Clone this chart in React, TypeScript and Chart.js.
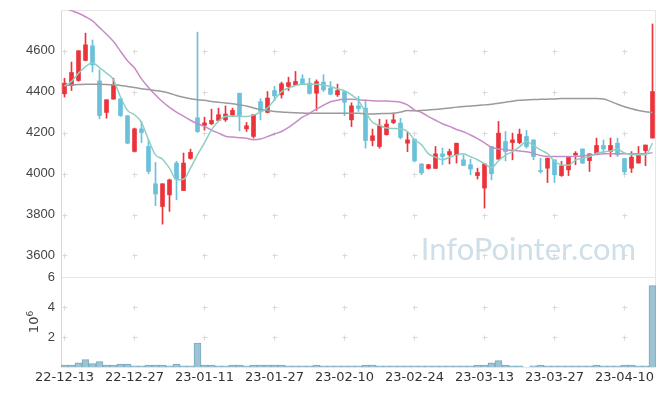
import React, { useEffect, useRef } from 'react';
import { Chart, registerables } from 'chart.js';

Chart.register(...registerables);

const dates = [
  '22-12-13','22-12-14','22-12-15','22-12-16','22-12-19','22-12-20','22-12-21','22-12-22','22-12-23','22-12-26',
  '22-12-27','22-12-28','22-12-29','23-01-02','23-01-03','23-01-04','23-01-05','23-01-06','23-01-09','23-01-10',
  '23-01-11','23-01-12','23-01-13','23-01-16','23-01-17','23-01-18','23-01-19','23-01-20','23-01-25','23-01-26',
  '23-01-27','23-01-30','23-01-31','23-02-01','23-02-02','23-02-03','23-02-06','23-02-07','23-02-08','23-02-09',
  '23-02-10','23-02-13','23-02-14','23-02-15','23-02-16','23-02-17','23-02-20','23-02-21','23-02-22','23-02-23',
  '23-02-24','23-02-27','23-02-28','23-03-02','23-03-03','23-03-06','23-03-07','23-03-08','23-03-09','23-03-10',
  '23-03-13','23-03-14','23-03-15','23-03-16','23-03-17','23-03-20','23-03-21','23-03-22','23-03-23','23-03-24',
  '23-03-27','23-03-28','23-03-29','23-03-30','23-03-31','23-04-03','23-04-04','23-04-05','23-04-06','23-04-07',
  '23-04-10','23-04-11','23-04-12','23-04-13','23-04-14',
];

const opens = [
  4389,4430,4454,4552,4623,4452,4298,4363,4365,4282, 4108,4218,4132,3950,3839,3896,4051,3917,4074,4272,
  4235,4243,4259,4262,4285,4392,4218,4181,4351,4298, 4405,4384,4425,4433,4462,4441,4392,4446,4417,4384,
  4400,4262,4330,4319,4161,4132,4190,4249,4246,4148, 4168,4047,4025,4025,4096,4091,4090,4067,4043,3990,
  3929,4132,4070,4156,4151,4151,4181,4164,4015,4026, 4067,3990,4018,4091,4120,4063,4095,4137,4107,4148,
  4073,4026,4051,4112,4173,
];
const highs = [
  4465,4544,4600,4685,4652,4506,4360,4465,4365,4282, 4222,4255,4165,4054,3950,3973,4060,4100,4119,4690,
  4275,4314,4319,4330,4319,4392,4249,4287,4365,4400, 4425,4446,4470,4498,4482,4465,4457,4482,4449,4436,
  4400,4345,4376,4359,4217,4265,4262,4295,4270,4200, 4168,4047,4045,4132,4124,4119,4148,4091,4070,4026,
  4050,4132,4254,4205,4197,4217,4210,4164,4075,4075, 4067,4059,4083,4107,4120,4096,4173,4164,4173,4173,
  4073,4107,4132,4139,4730,
];
const lows = [
  4373,4405,4450,4550,4495,4267,4270,4363,4278,4145, 4105,4151,3999,3843,3753,3815,3872,3917,4070,4200,
  4212,4238,4259,4254,4278,4208,4205,4173,4262,4296, 4355,4368,4405,4433,4436,4387,4308,4400,4384,4376,
  4282,4229,4303,4124,4135,4124,4187,4243,4169,4107, 4056,3994,4022,4025,4043,4047,4051,4039,3994,3973,
  3831,3969,4070,4062,4067,4145,4124,4067,4002,3956, 3956,3986,3990,4043,4048,4010,4092,4096,4083,4083,
  3998,4005,4051,4038,4173,
];
const closes = [
  4441,4493,4599,4628,4530,4283,4360,4433,4283,4148, 4218,4200,4010,3900,3950,3969,3973,4051,4103,4205,
  4247,4259,4287,4290,4308,4283,4233,4287,4303,4368, 4379,4438,4444,4449,4438,4391,4448,4408,4387,4405,
  4348,4330,4317,4161,4184,4233,4241,4262,4176,4164, 4062,4003,4043,4096,4083,4107,4148,4039,4022,4005,
  4047,3999,4197,4107,4164,4192,4132,4083,4010,4075, 3994,4037,4083,4099,4051,4096,4137,4120,4137,4091,
  4008,4080,4096,4139,4400,
];

const ma5 = [
  4427,4449,4489,4522,4539,4517,4490,4457,4373,4308, 4287,4249,4165,4091,4070,4026,3969,3972,4026,4091,
  4150,4213,4255,4278,4281,4278,4278,4285,4300,4320, 4360,4400,4417,4430,4436,4436,4436,4431,4425,4413,
  4404,4384,4355,4300,4250,4235,4222,4220,4218,4205, 4165,4140,4096,4080,4067,4080,4091,4096,4082,4067,
  4048,4028,4062,4090,4107,4130,4156,4136,4115,4097, 4060,4042,4040,4065,4075,4082,4099,4105,4110,4118,
  4100,4092,4091,4091,4148,
];
const ma20 = [
  4808,4795,4782,4765,4745,4712,4680,4644,4597,4550, 4515,4462,4420,4383,4350,4323,4300,4280,4260,4243,
  4230,4212,4197,4182,4178,4175,4172,4165,4168,4180, 4193,4205,4225,4250,4275,4293,4315,4333,4350,4358,
  4362,4363,4360,4357,4355,4354,4354,4352,4348,4335, 4310,4298,4278,4260,4243,4230,4215,4204,4188,4170,
  4150,4128,4120,4116,4113,4110,4106,4098,4088,4083, 4083,4083,4083,4084,4086,4090,4093,4096,4096,4096,
  4096,4096,4096,4096,4102,
];
const ma60 = [
  4430,4432,4434,4436,4436,4436,4435,4433,4430,4425, 4420,4414,4410,4405,4400,4392,4381,4372,4365,4360,
  4357,4352,4348,4344,4340,4335,4330,4320,4313,4308, 4303,4300,4298,4296,4295,4294,4294,4294,4294,4294,
  4294,4294,4294,4291,4291,4292,4293,4294,4300,4307, 4306,4308,4310,4313,4316,4320,4324,4327,4330,4332,
  4335,4338,4343,4348,4353,4357,4359,4361,4362,4363, 4364,4366,4366,4366,4366,4366,4366,4364,4352,4338,
  4326,4316,4308,4302,4297,
];

// volume, in millions of shares
const volumes = [
  0.13,0.13,0.27,0.49,0.22,0.36,0.13,0.13,0.2,0.2, 0.07,0.07,0.13,0.13,0.13,0.07,0.2,0.07,0.07,1.6,
  0.13,0.13,0.07,0.07,0.13,0.13,0.07,0.13,0.13,0.13, 0.13,0.13,0.07,0.07,0.07,0.07,0.13,0.07,0.07,0.07,
  0.07,0.07,0.07,0.13,0.13,0.07,0.07,0.07,0.07,0.07, 0.07,0.07,0.07,0.07,0.07,0.07,0.07,0.07,0.07,0.13,
  0.13,0.27,0.42,0.13,0.07,0.07,0,0.07,0.13,0.07, 0.07,0.07,0.07,0.07,0.07,0.07,0.13,0.07,0.07,0.07,
  0.13,0.13,0.07,0.07,5.42,
];

const priceTicks = [3600, 3800, 4000, 4200, 4400, 4600];
const volumeTicks = [2, 4, 6];
const labelEvery = 10;
const watermark = 'InfoPointer.com';

const framePlugin = {
  id: 'frame',
  beforeDatasetsDraw(chart: any) {
    const { ctx, chartArea, scales } = chart;
    const sx = scales.x, sy = scales.y, sv = scales.yv;
    const L = Math.round(chartArea.left) + 0.5;
    const R = Math.round(chartArea.right) - 0.5;
    const T = Math.round(sy.top) + 0.5;
    const M = Math.round(sv.top) + 0.5;
    const B = Math.round(sv.bottom) + 0.5;
    ctx.save();
    // watermark
    ctx.font = '31px Lato';
    ctx.fillStyle = '#cfdfe9';
    ctx.textAlign = 'right';
    ctx.textBaseline = 'alphabetic';
    ctx.fillText(watermark, chartArea.right - 20, sv.top - 17);
    // grid crosses
    ctx.strokeStyle = '#d9d9d9';
    ctx.lineWidth = 1;
    const xs: number[] = [];
    for (let i = 0; i < dates.length; i += labelEvery) xs.push(Math.round(sx.getPixelForValue(i) - 0.5) + 0.5);
    const ys: number[] = [];
    priceTicks.forEach((v) => ys.push(Math.round(sy.getPixelForValue(v)) + 0.5));
    volumeTicks.slice(0, 2).forEach((v) => ys.push(Math.round(sv.getPixelForValue(v)) + 0.5));
    ctx.beginPath();
    xs.forEach((x) => ys.forEach((y) => {
      ctx.moveTo(x - 2, y); ctx.lineTo(x + 3, y);
      ctx.moveTo(x, y - 2); ctx.lineTo(x, y + 3);
    }));
    ctx.stroke();
    // frames
    ctx.strokeStyle = '#e6e6e6';
    ctx.beginPath();
    ctx.moveTo(L, T); ctx.lineTo(R, T); ctx.lineTo(R, B);
    ctx.moveTo(L, M); ctx.lineTo(R, M);
    ctx.moveTo(L, B); ctx.lineTo(R, B);
    ctx.stroke();
    ctx.strokeStyle = '#d6d6d6';
    ctx.beginPath();
    ctx.moveTo(L, T); ctx.lineTo(L, B);
    ctx.stroke();
    ctx.restore();
  },
  afterDraw(chart: any) {
    const { ctx, scales } = chart;
    const sv = scales.yv;
    const cy = (sv.top + sv.bottom) / 2;
    ctx.save();
    ctx.translate(30, cy);
    ctx.rotate(-Math.PI / 2);
    ctx.fillStyle = '#444';
    ctx.textBaseline = 'alphabetic';
    ctx.textAlign = 'left';
    ctx.font = '13px "DejaVu Sans"';
    const w = ctx.measureText('10').width;
    ctx.font = '9px "DejaVu Sans"';
    const w2 = ctx.measureText('6').width;
    const start = -(w + w2) / 2;
    ctx.font = '13px "DejaVu Sans"';
    ctx.fillText('10', start, 0);
    ctx.font = '9px "DejaVu Sans"';
    ctx.fillText('6', start + w, -5);
    ctx.restore();
  },
};

const noPad = (s: any) => {
  s.paddingTop = 0;
  s.paddingBottom = 0;
};

export default function App() {
  const ref = useRef<HTMLCanvasElement>(null);
  useEffect(() => {
    const up = '#ea333b';
    const down = '#6bc1da';
    const candleColors = opens.map((o, i) => (closes[i] >= o ? up : down));
    const wicks = lows.map((l, i) => [l, highs[i]]);
    const bodies = opens.map((o, i) => [o, closes[i]]);
    const lineBase = { type: 'line', yAxisID: 'y', pointRadius: 0, borderWidth: 1.5, cubicInterpolationMode: 'monotone', fill: false, order: 0 };
    const chart = new Chart(ref.current as HTMLCanvasElement, {
      type: 'bar',
      data: {
        labels: dates,
        datasets: [
          { ...lineBase, label: 'MA5', data: ma5, borderColor: '#8dcfc3' } as any,
          { ...lineBase, label: 'MA20', data: ma20, borderColor: '#c78cc6' } as any,
          { ...lineBase, label: 'MA60', data: ma60, borderColor: '#9a9a9a' } as any,
          {
            type: 'bar', label: 'wick', data: wicks, yAxisID: 'y', backgroundColor: candleColors,
            barThickness: 1, grouped: false, borderWidth: 0, order: 2,
          } as any,
          {
            type: 'bar', label: 'body', data: bodies, yAxisID: 'y', backgroundColor: candleColors,
            barThickness: 4, grouped: false, borderWidth: 0, minBarLength: 1, order: 1,
          } as any,
          {
            type: 'bar', label: 'volume', data: volumes, yAxisID: 'yv', backgroundColor: '#9dc4d4',
            borderColor: '#7aa9bd', borderWidth: 1, barPercentage: 1, categoryPercentage: 1, grouped: false, order: 3,
          } as any,
        ],
      },
      plugins: [framePlugin],
      options: {
        animation: false,
        responsive: true,
        maintainAspectRatio: false,
        devicePixelRatio: 1,
        layout: { padding: { top: 2, right: 1, left: 0, bottom: 0 } },
        plugins: { legend: { display: false }, tooltip: { enabled: false } },
        scales: {
          x: {
            type: 'category',
            offset: true,
            grid: { display: false, drawTicks: false },
            border: { display: false },
            ticks: {
              autoSkip: false,
              maxRotation: 0,
              padding: 3,
              color: '#333',
              font: { family: 'DejaVu Sans', size: 13 },
              callback: (_v: any, i: number) => (i % labelEvery === 0 ? dates[i] : ''),
            },
            afterFit: (s: any) => { s.height = 21; s.paddingLeft = 0; s.paddingRight = 0; },
          },
          y: {
            position: 'left',
            stack: 'v',
            stackWeight: 267,
            weight: 1,
            min: 3495,
            max: 4798,
            grid: { display: false, drawTicks: false },
            border: { display: false },
            ticks: {
              padding: 6, color: '#444', font: { family: 'Liberation Sans', size: 13 },
              callback: (v: any) => String(v),
            },
            afterBuildTicks: (s: any) => { s.ticks = priceTicks.map((v) => ({ value: v })); },
            afterFit: (s: any) => { s.width = 53; noPad(s); },
          },
          yv: {
            position: 'left',
            stack: 'v',
            stackWeight: 90,
            weight: 0,
            min: 0,
            max: 6,
            grid: { display: false, drawTicks: false },
            border: { display: false },
            ticks: {
              padding: 6, color: '#444', font: { family: 'Liberation Sans', size: 13 },
              callback: (v: any) => String(v),
            },
            afterBuildTicks: (s: any) => { s.ticks = volumeTicks.map((v) => ({ value: v })); },
            afterFit: (s: any) => { s.width = 53; noPad(s); },
          },
        },
      } as any,
    });
    return () => chart.destroy();
  }, []);
  return (
    <div style={{ width: 649, height: 380, position: 'relative' }}>
      <canvas ref={ref} />
    </div>
  );
}
